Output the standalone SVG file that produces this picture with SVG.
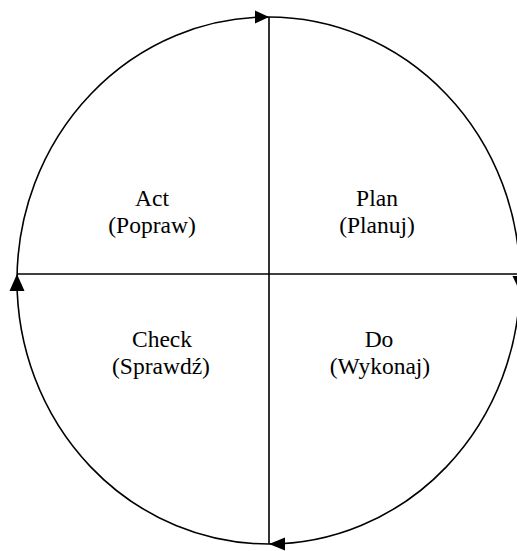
<svg xmlns="http://www.w3.org/2000/svg" width="517" height="551" viewBox="0 0 517 551">
<style>
.ln{fill:none;stroke:#000;stroke-width:1.6}
.ah{fill:#000;stroke:none}
text{font-family:"Liberation Serif","Times New Roman",serif;font-size:23.5px;fill:#000;text-anchor:middle}
</style>
<rect width="517" height="551" fill="#fff"/>
<g id="connectors">
<ellipse class="ln" cx="268.5" cy="280.5" rx="251.5" ry="263.5"/>
<line class="ln" x1="269" y1="17" x2="269" y2="544"/>
<line class="ln" x1="17" y1="274" x2="517" y2="274"/>
<polygon class="ah" points="269,17 255,10.5 255,23.5"/>
<polygon class="ah" points="269,544 285,537.5 285,550.5"/>
<polygon class="ah" points="17,274 9.5,291 24.5,291"/>
<polygon class="ah" points="520,292 512.5,276 527.5,276"/>
</g>
<g id="act"><text x="152" y="206">Act</text><text x="152" y="233">(Popraw)</text></g>
<g id="plan"><text x="377" y="206">Plan</text><text x="377" y="233">(Planuj)</text></g>
<g id="check"><text x="162" y="347">Check</text><text x="161" y="374">(Sprawdź)</text></g>
<g id="do"><text x="379" y="347">Do</text><text x="380" y="374">(Wykonaj)</text></g>
</svg>
